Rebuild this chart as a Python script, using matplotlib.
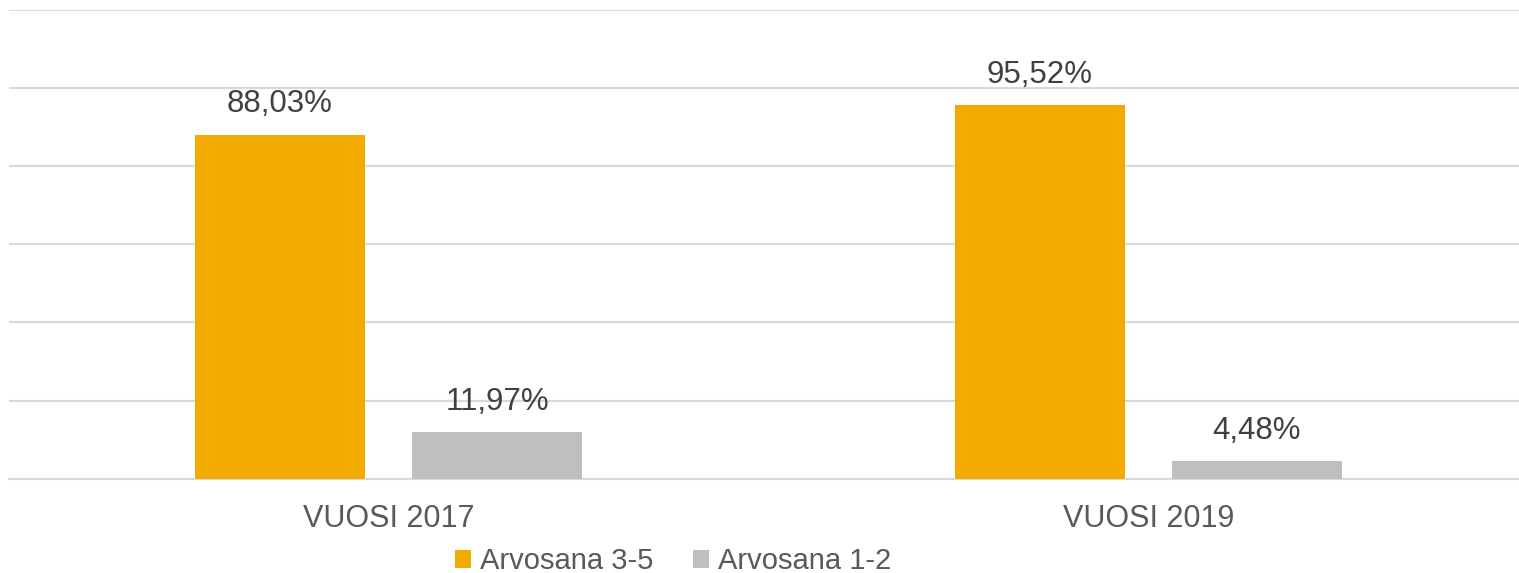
import numpy as np
import matplotlib.pyplot as plt

years = ['VUOSI 2017', 'VUOSI 2019']
series = ['Arvosana 3-5', 'Arvosana 1-2']
high = [88.03, 95.52]
low = [11.97, 4.48]
colors = ['#F2A900', '#BFBFBF']

plt.rcParams['font.family'] = ['Liberation Sans', 'DejaVu Sans']

W, H = 1519, 573
fig = plt.figure(figsize=(W / 100, H / 100), dpi=100)
ax = fig.add_axes([9 / W, (H - 478.7) / H, 1510 / W, (478.7 - 9.5) / H])

x = np.arange(len(years))
bw = 0.2237
off = 0.1428
b1 = ax.bar(x - off, high, bw, color=colors[0], label=series[0], zorder=3)
b2 = ax.bar(x + off, low, bw, color=colors[1], label=series[1], zorder=3)

for bars, vals in [(b1, high), (b2, low)]:
    for r, v in zip(bars, vals):
        ax.annotate(f'{v:.2f}%'.replace('.', ','),
                    (r.get_x() + r.get_width() / 2, r.get_height()),
                    xytext=(0, 11), textcoords='offset points',
                    ha='center', va='bottom', fontsize=22.5, color='#404040', zorder=4)

ax.set_xlim(-0.4993, -0.4993 + 1510 / 760)
ax.set_ylim(0, 120)
ax.set_yticks(np.arange(0, 121, 20))
ax.set_yticklabels([])
ax.tick_params(axis='y', length=0)
ax.grid(axis='y', color='#D9D9D9', linewidth=1.5, zorder=0)
ax.set_xticks(x)
ax.set_xticklabels(years, fontsize=22, color='#595959')
ax.tick_params(axis='x', length=0, pad=18)
for s in ['top', 'right', 'left']:
    ax.spines[s].set_visible(False)
ax.spines['bottom'].set_color('#D9D9D9')
ax.spines['bottom'].set_linewidth(1.5)
ax.set_facecolor('white')

fig.legend(loc='lower center', bbox_to_anchor=(673 / W, -0.05), ncol=2, frameon=False,
           fontsize=21, labelcolor='#595959', handlelength=0.55, handleheight=0.55,
           handletextpad=0.31, columnspacing=1.34)

fig.savefig('out.png', dpi=100, facecolor='white')
